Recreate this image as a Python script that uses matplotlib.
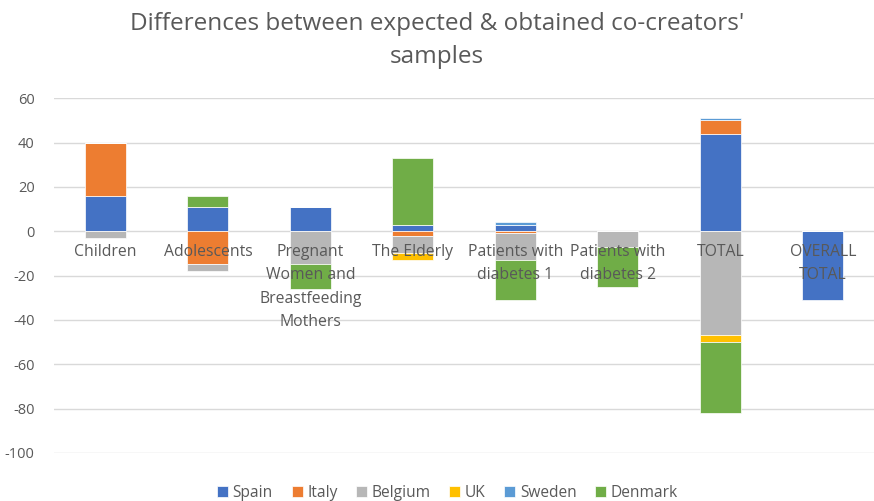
import numpy as np
import matplotlib
matplotlib.use("Agg")
import matplotlib.pyplot as plt

plt.rcParams['font.family'] = ['Open Sans', 'DejaVu Sans']
plt.rcParams['axes.unicode_minus'] = False

categories = ["Children", "Adolescents", "Pregnant\nWomen and\nBreastfeeding\nMothers",
              "The Elderly", "Patients with\ndiabetes 1", "Patients with\ndiabetes 2",
              "TOTAL", "OVERALL\nTOTAL"]
countries = ["Spain", "Italy", "Belgium", "UK", "Sweden", "Denmark"]
spain = [16, 11, 11, 3, 3, 0, 44, -31]
italy = [24, -15, 0, -2, -1, 0, 6, 0]
belgium = [-3, -3, -15, -8, -12, -7, -47, 0]
uk = [0, 0, 0, -3, 0, 0, -3, 0]
sweden = [0, 0, 0, 0, 1, 0, 1, 0]
denmark = [0, 5, -11, 30, -18, -18, -32, 0]
colors = ["#4472C4", "#ED7D31", "#B7B7B7", "#FFC000", "#5B9BD5", "#70AD47"]

series = [spain, italy, belgium, uk, sweden, denmark]
grey = "#595959"

fig = plt.figure(figsize=(8.74, 5.01), dpi=100)
ax = fig.add_axes([0.062, 0.096, 0.938, 0.708])

x = np.arange(len(categories))
pos_base = np.zeros(len(categories))
neg_base = np.zeros(len(categories))
for name, vals, col in zip(countries, series, colors):
    v = np.array(vals, dtype=float)
    bottom = np.where(v >= 0, pos_base, neg_base)
    ax.bar(x, v, 0.4, bottom=bottom, color=col, label=name,
           edgecolor="white", linewidth=0.5, zorder=3)
    pos_base += np.where(v > 0, v, 0)
    neg_base += np.where(v < 0, v, 0)

ax.set_ylim(-100, 60)
ax.set_xlim(-0.5, len(categories) - 0.5)
ax.set_yticks(np.arange(-100, 61, 20))
ax.yaxis.grid(True, color="#d9d9d9", linewidth=1, zorder=0)
ax.set_xticks([])
for s in ax.spines.values():
    s.set_visible(False)
ax.tick_params(axis="y", length=0, labelsize=10.5, labelcolor=grey, pad=14)

for xi, lab in zip(x, categories):
    ax.annotate(lab, (xi, 0), xytext=(0, -9), textcoords="offset points",
                ha="center", va="top", fontsize=11.3, color=grey,
                linespacing=1.62, zorder=4)

fig.suptitle("Differences between expected & obtained co-creators'\nsamples",
             fontsize=17.5, color=grey, y=0.977, linespacing=1.5)

ax.legend(loc="upper center", bbox_to_anchor=(0.48, -0.05), ncol=6,
          frameon=False, fontsize=11.2, labelcolor=grey, handlelength=0.7,
          handleheight=0.7, handletextpad=0.3, columnspacing=1.2)

fig.savefig("out.png", dpi=100)
